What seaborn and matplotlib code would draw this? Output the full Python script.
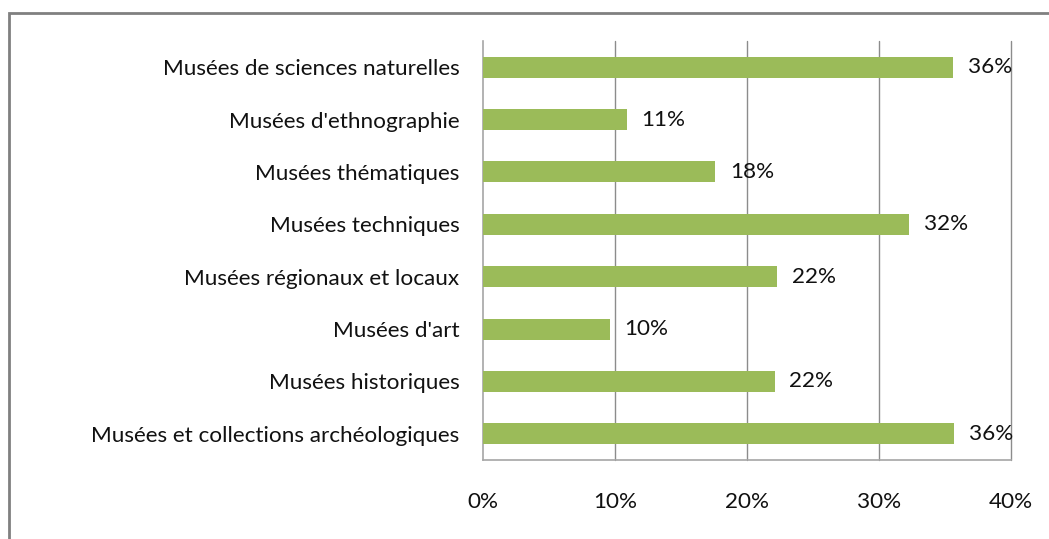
import pandas as pd
import matplotlib.pyplot as plt
import seaborn as sns
from matplotlib.patches import Rectangle

# Data (percent)
categories = [
    "Musées de sciences naturelles",
    "Musées d'ethnographie",
    "Musées thématiques",
    "Musées techniques",
    "Musées régionaux et locaux",
    "Musées d'art",
    "Musées historiques",
    "Musées et collections archéologiques",
]
values = [35.6, 10.9, 17.6, 32.3, 22.3, 9.6, 22.1, 35.7]
xticks = [0, 10, 20, 30, 40]

df = pd.DataFrame({"type": categories, "share": values})

sns.set_style("white")
plt.rcParams["font.family"] = ["Lato", "DejaVu Sans"]

fig = plt.figure(figsize=(10.49, 5.39), dpi=100)
ax = fig.add_axes([0.4604, 0.1466, 0.5034, 0.7774])

sns.barplot(data=df, x="share", y="type", orient="h", color="#9BBB59",
            width=0.4, saturation=1, linewidth=0, ax=ax, zorder=3)

ax.set_xlim(0, 40)
ax.set_ylim(len(categories) - 0.5, -0.5)
ax.set_xticks(xticks)
ax.set_xticklabels([f"{t}%" for t in xticks])
ax.grid(False)
for t in xticks[1:]:
    ax.axvline(t, color="#8C8C8C", linewidth=1, zorder=0, clip_on=False)
ax.set_xlabel("")
ax.set_ylabel("")

for side in ["top", "right"]:
    ax.spines[side].set_visible(False)
for side in ["left", "bottom"]:
    ax.spines[side].set_color("#A6A6A6")
    ax.spines[side].set_linewidth(1.2)

fs = 16.2
ax.tick_params(axis="both", length=0, labelsize=fs, colors="#111111")
ax.tick_params(axis="x", pad=23)
ax.tick_params(axis="y", pad=17)

# value labels at bar ends
for i, v in enumerate(values):
    ax.annotate(f"{v:.0f}%", xy=(v, i), xytext=(10.5, 0), textcoords="offset points",
                va="center", ha="left", fontsize=fs, color="#111111")

# outer chart border
fig.patches.append(Rectangle((9 / 1049, -0.05), 1.1, (539 - 13) / 539 + 0.05,
                             transform=fig.transFigure, fill=False,
                             edgecolor="#808080", linewidth=2, clip_on=False))

fig.savefig("out.png", dpi=100)
